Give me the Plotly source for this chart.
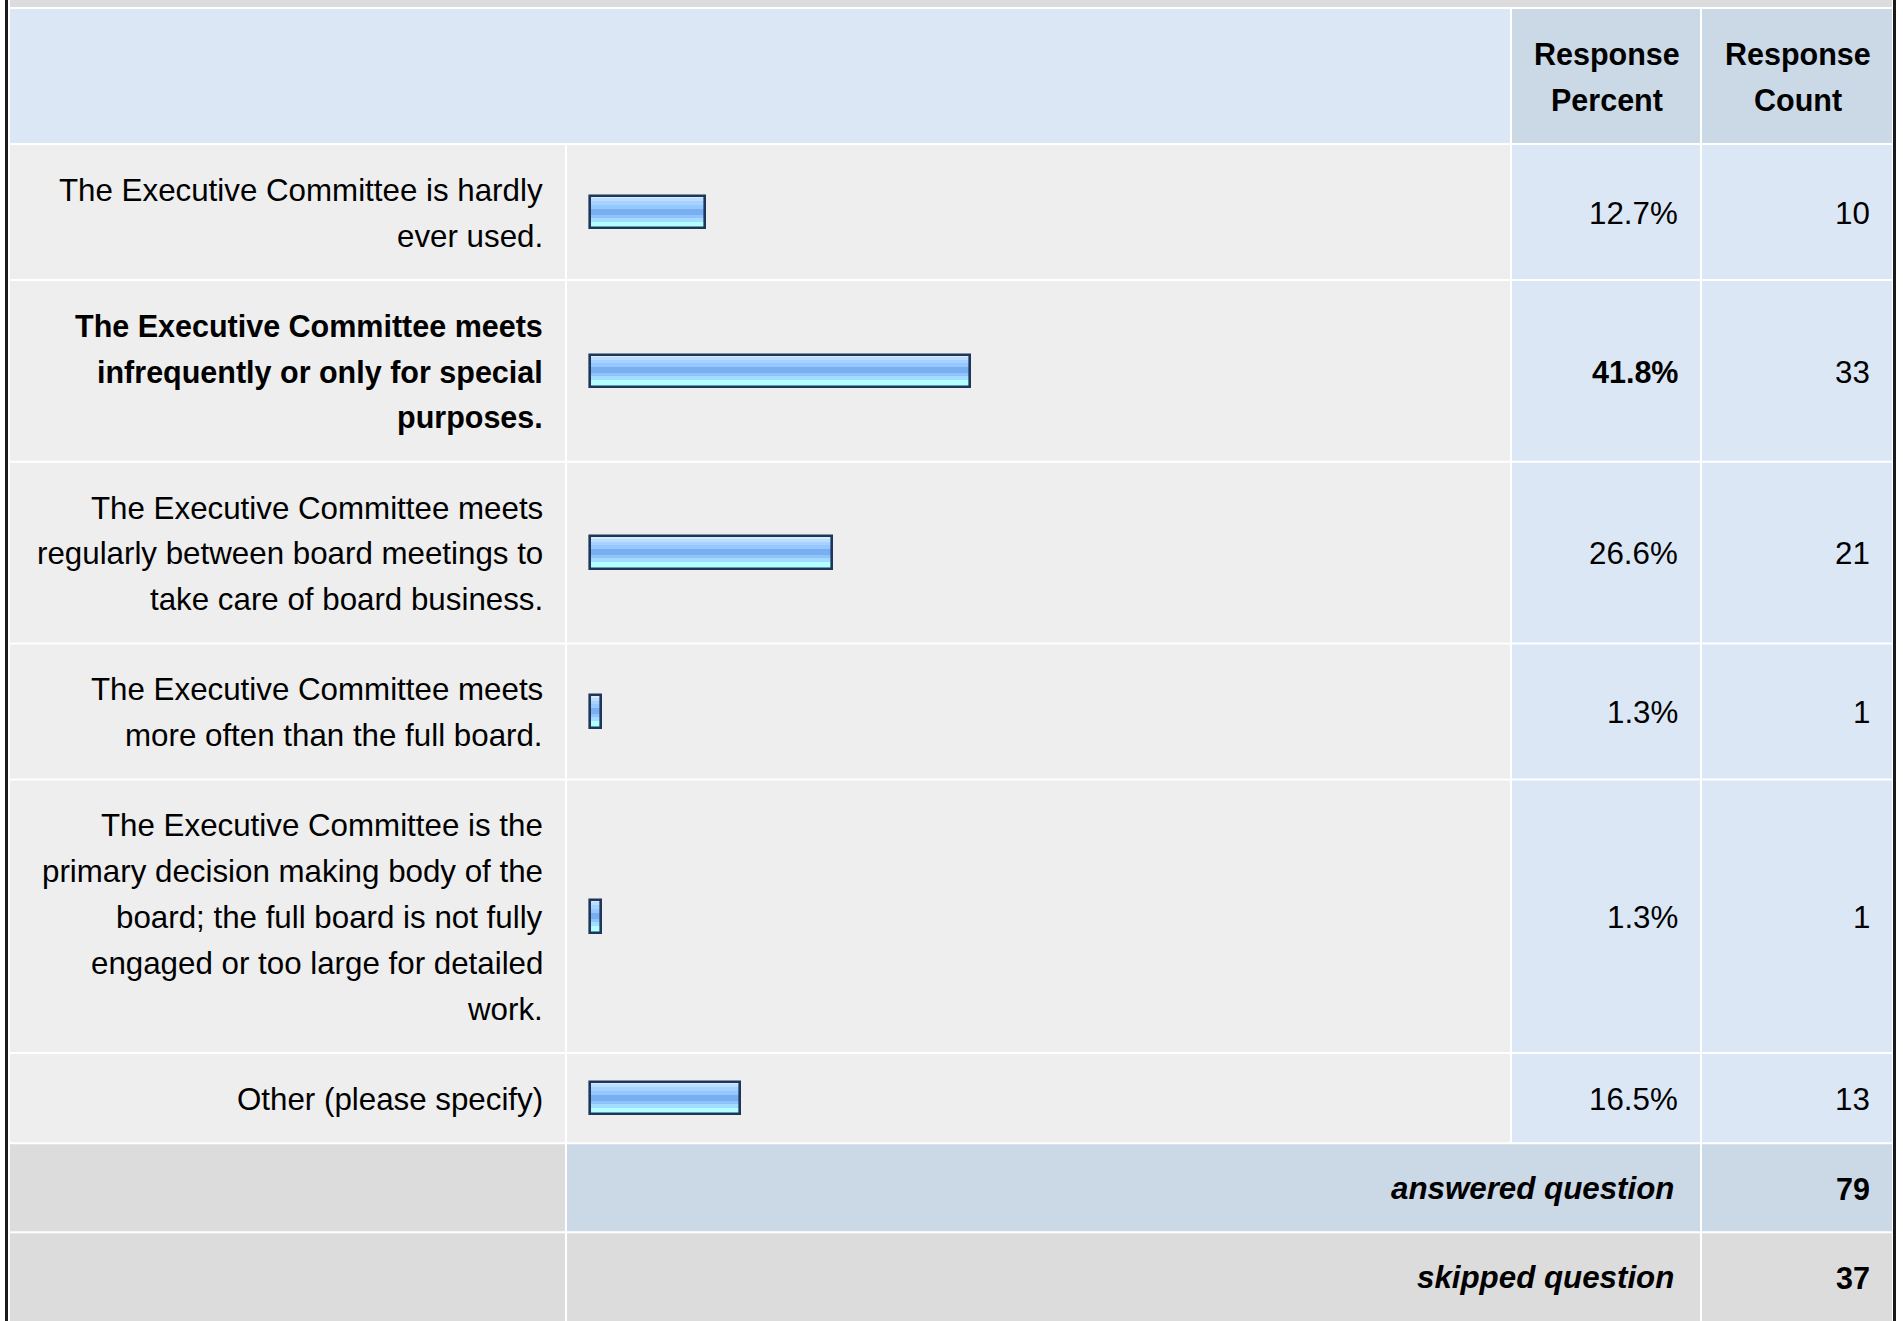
import plotly.graph_objects as go

# ---------------- data ----------------
categories = [
    "The Executive Committee is hardly<br>ever used.",
    "The Executive Committee meets<br>infrequently or only for special<br>purposes.",
    "The Executive Committee meets<br>regularly between board meetings to<br>take care of board business.",
    "The Executive Committee meets<br>more often than the full board.",
    "The Executive Committee is the<br>primary decision making body of the<br>board; the full board is not fully<br>engaged or too large for detailed<br>work.",
    "Other (please specify)",
]
response_percent = [12.7, 41.8, 26.6, 1.3, 1.3, 16.5]
response_count = [10, 33, 21, 1, 1, 13]
header_labels = ["Response<br>Percent", "Response<br>Count"]
summary_labels = ["answered question", "skipped question"]
summary_values = [79, 37]

# ---------------- layout / style ----------------
W, H = 1903, 1321
FONT = "Liberation Sans, Arial, Helvetica, sans-serif"
FS = 31.3
FS_BOLD = 30.5
X_L0, X_L1 = 10, 565      # label column
X_B0, X_B1 = 567, 1510    # bar column
X_P0, X_P1 = 1512, 1700   # percent column
X_C0, X_C1 = 1702, 1892   # count column
GAP = 2
LINE_H = 45.8
PAD = 44.4
TOP = 9
FOOT_H = 89
PAD_R = 20
BAR_X0 = 589.5
PX_PER_PCT = 9.1

C_LIGHT = "#DCE7F5"
C_DARK = "#CBD8E6"
C_ROW = "#EEEEEE"
C_FOOT = "#DCDCDC"
C_BORDER = "#1A1A1A"
C_BAR_LINE = "#1D3659"
STRIPES = [  # (top offset, bottom offset) relative to bar center, colour
    (-16.5, -14.0, "#D6EBFF"),
    (-14.0, -11.0, "#BCDDFF"),
    (-11.0, -7.5, "#A6D2FF"),
    (-7.5, -3.5, "#94C8FF"),
    (-3.5, 2.5, "#79AEF1"),
    (2.5, 5.5, "#8EC3FB"),
    (5.5, 9.5, "#A4DCFF"),
    (9.5, 16.5, "#B2FFFF"),
]

shapes = []
annotations = []


def rect(x0, x1, y0, y1, color):
    shapes.append(dict(type="rect", xref="x", yref="y", x0=x0, x1=x1, y0=y0, y1=y1,
                       fillcolor=color, line=dict(width=0), layer="below"))


def text(x, y, s, anchor="right", bold=False, italic=False):
    if italic:
        s = "<i>" + s + "</i>"
    size = FS
    if bold:
        s = "<b>" + s + "</b>"
        if not italic:
            size = FS_BOLD
    annotations.append(dict(x=x, y=y, xref="x", yref="y", text=s, showarrow=False,
                            xanchor=anchor, yanchor="middle",
                            font=dict(family=FONT, size=size, color="#000000")))


def lines_y(top, h, n):
    c = top + (h - GAP) / 2 + 1.2
    return [c + (k - (n - 1) / 2) * LINE_H for k in range(n)]


# top strip and side borders
rect(X_L0, X_C1, 0, 7, C_FOOT)
rect(5, 8, 0, H, C_BORDER)
rect(1893, 1896, 0, H, C_BORDER)

# header
y = TOP
h = LINE_H * 2 + PAD
rect(X_L0, X_B1, y, y + h - GAP, C_LIGHT)
rect(X_P0, X_P1, y, y + h - GAP, C_DARK)
rect(X_C0, X_C1, y, y + h - GAP, C_DARK)
for (xa, xb), lab in zip([(X_P0, X_P1), (X_C0, X_C1)], header_labels):
    for ly, part in zip(lines_y(y, h, 2), lab.split("<br>")):
        text((xa + xb) / 2 + 0.5, ly, part, anchor="center", bold=True)
y += h

# body rows
best = response_percent.index(max(response_percent))
bar_centers = []
for i, (cat, pct, cnt) in enumerate(zip(categories, response_percent, response_count)):
    parts = cat.split("<br>")
    n = len(parts)
    h = LINE_H * n + PAD
    rect(X_L0, X_L1, y, y + h - GAP, C_ROW)
    rect(X_B0, X_B1, y, y + h - GAP, C_ROW)
    rect(X_P0, X_P1, y, y + h - GAP, C_LIGHT)
    rect(X_C0, X_C1, y, y + h - GAP, C_LIGHT)
    for ly, part in zip(lines_y(y, h, n), parts):
        text(X_L1 - PAD_R, ly, part, bold=(i == best))
    cy = y + (h - GAP) / 2
    text(X_P1 - PAD_R, cy + 1.2, f"{pct:.1f}%", bold=(i == best))
    text(X_C1 - PAD_R, cy + 1.2, str(cnt))
    bar_centers.append(cy)
    y += h

# summary rows
for j, (lab, val) in enumerate(zip(summary_labels, summary_values)):
    last = j == len(summary_labels) - 1
    h = FOOT_H
    y1 = H if last else y + h - GAP
    rect(X_L0, X_L1, y, y1, C_FOOT)
    rect(X_B0, X_P1, y, y1, C_DARK if j == 0 else C_FOOT)
    rect(X_C0, X_C1, y, y1, C_DARK if j == 0 else C_FOOT)
    cy = y + (h - GAP) / 2 + 1.2
    text(X_P1 - 24, cy, lab, bold=True, italic=True)
    text(X_C1 - PAD_R, cy, str(val), bold=True)
    y += h

fig = go.Figure()
for (o0, o1, col) in STRIPES:
    fig.add_trace(go.Bar(
        x=response_percent, y=bar_centers, orientation="h", xaxis="x2", yaxis="y",
        width=o1 - o0, offset=o0, base=0,
        marker=dict(color=col, line=dict(width=0)), hoverinfo="skip", showlegend=False))
fig.add_trace(go.Bar(
    x=response_percent, y=bar_centers, orientation="h", xaxis="x2", yaxis="y",
    width=32.6, offset=-16.3, base=0,
    marker=dict(color="rgba(0,0,0,0)", line=dict(width=2.6, color=C_BAR_LINE)),
    customdata=[c.replace("<br>", " ") for c in categories],
    hovertemplate="%{customdata}: %{x}%<extra></extra>", showlegend=False))

fig.update_layout(
    width=W, height=H,
    margin=dict(l=0, r=0, t=0, b=0),
    paper_bgcolor="#FFFFFF", plot_bgcolor="rgba(0,0,0,0)",
    barmode="overlay", bargap=0,
    xaxis=dict(range=[0, W], domain=[0, 1], visible=False, fixedrange=True),
    # percent axis spans the full width; 0 % sits at the bar column's inner edge
    xaxis2=dict(range=[-BAR_X0 / PX_PER_PCT, (W - BAR_X0) / PX_PER_PCT],
                overlaying="x", anchor="y", visible=False, fixedrange=True),
    yaxis=dict(range=[H, 0], domain=[0, 1], visible=False, fixedrange=True),
    shapes=shapes, annotations=annotations,
    showlegend=False,
)

fig.write_html("out.html",
               config={"displayModeBar": False, "staticPlot": False},
               post_script="document.body.style.margin='0px';"
                           "document.body.style.overflow='hidden';")
